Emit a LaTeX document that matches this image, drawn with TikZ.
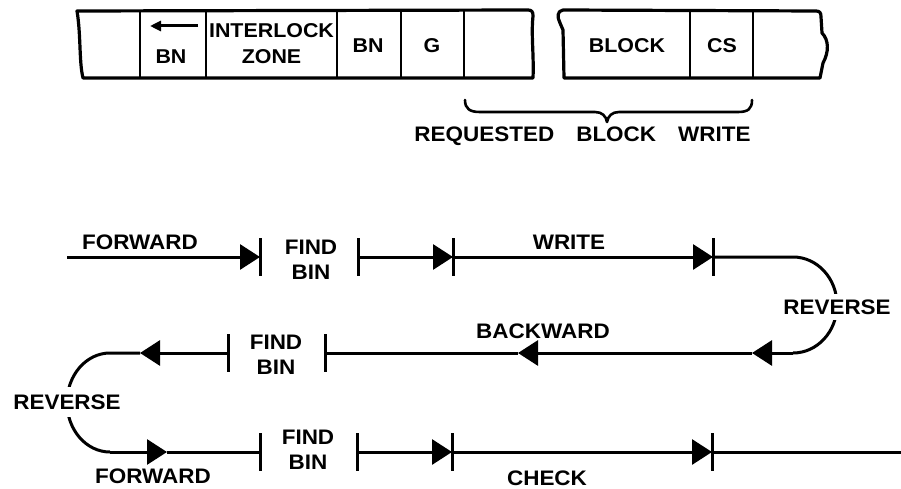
\documentclass[tikz,border=0pt]{standalone}
\usepackage{fontspec}
\setmainfont{Liberation Sans}[FakeStretch=1.07]
\usetikzlibrary{arrows.meta}
\begin{document}
\begin{tikzpicture}[x=1pt,y=-1pt,
  lbl/.style={font=\fontsize{21}{25}\selectfont\bfseries, inner sep=0pt, align=center},
  tlbl/.style={font=\fontsize{20}{26}\selectfont\bfseries, inner sep=0pt, align=center},
  rev/.style={lbl, fill=white, inner xsep=1pt, inner ysep=6pt},
  tape/.style={line width=3.2pt, line join=round, line cap=round},
  divider/.style={line width=2.2pt},
  flow/.style={line width=3pt},
  tri/.style={-{Triangle[length=20pt,width=25pt]}},
  barline/.style={line width=3pt},
  bracestyle/.style={line width=2.6pt, line cap=round, line join=round},
]
\useasboundingbox (0,0) rectangle (901,489);

% ---------- tape ----------
\draw[tape] (77,11) -- (528,10) .. controls (532,10) and (533,12) .. (533,16)
  .. controls (531,35) and (534,55) .. (533,78) -- (83,78)
  .. controls (79,62) and (81,35) .. (77,11) -- cycle;
\foreach \xx in {140,206,337,401,464}
  \draw[divider] (\xx,10) -- (\xx,78);

\draw[tape] (564,78) -- (563,30) -- (560,23) .. controls (557,17) and (557,11) .. (563,10)
  -- (816,11) .. controls (820,11) and (821,13) .. (821,17) -- (822,33)
  .. controls (829,40) and (829,52) .. (823,63) -- (820,78) -- cycle;
\foreach \xx in {690,753}
  \draw[divider] (\xx,10) -- (\xx,78);

\coordinate (ba) at (198,26);
\coordinate (bb) at (150,26);
\draw[line width=3pt, -{Triangle[length=11pt,width=10pt]}] (ba) -- (bb);

\node[tlbl] (bn1) at (171,57) {BN};
\node[tlbl] (iz) at (271.5,44) {INTERLOCK\\ZONE};
\node[tlbl] (bn2) at (368,46) {BN};
\node[tlbl] (g) at (432,46) {G};
\node[tlbl] (blk) at (627,46) {BLOCK};
\node[tlbl] (cs) at (722,46) {CS};

% brace
\coordinate (brl) at (465,100);
\coordinate (brr) at (752,100);
\coordinate (brt) at (607,122);
\draw[bracestyle] (brl) .. controls (465,109) and (470,112) .. (480,112) -- (595,112)
  .. controls (602,112) and (606,116) .. (brt)
  .. controls (608,116) and (612,112) .. (619,112) -- (738,112)
  .. controls (748,112) and (752,109) .. (brr);
\node[lbl] (req) at (582.5,136) {REQUESTED\hspace{22pt}BLOCK\hspace{22pt}WRITE};

% ---------- flow ----------
% row 1
\coordinate (s1) at (67,257);
\coordinate (b1) at (260,257);
\coordinate (b2) at (358,257);
\coordinate (b3) at (453,257);
\coordinate (b4) at (713,257);
\coordinate (r1) at (793,257);
% row 2
\coordinate (r2) at (793,353);
\coordinate (t1) at (752,353);
\coordinate (t2) at (518,353);
\coordinate (b5) at (325,353);
\coordinate (b6) at (228,353);
\coordinate (t3) at (140,353);
\coordinate (l1) at (110,353);
% row 3
\coordinate (l2) at (110,452);
\coordinate (t4) at (167,452);
\coordinate (b7) at (260,452);
\coordinate (b8) at (357,452);
\coordinate (b9) at (452,452);
\coordinate (b10) at (712,452);
\coordinate (e1) at (901,452);

\draw[flow,tri] (s1) -- (b1);
\draw[flow,tri] (b2) -- (b3);
\draw[flow,tri] (b3) -- (b4);
\draw[flow] (b4) -- (r1) arc[start angle=-90,end angle=90,x radius=44,y radius=48];

\draw[flow,tri] (r2) -- (t1);
\draw[flow,tri] (t1) -- (t2);
\draw[flow] (t2) -- (b5);
\draw[flow,tri] (b6) -- (t3);
\draw[flow] (t3) -- (l1) arc[start angle=-90,end angle=-270,x radius=43,y radius=49.5];

\draw[flow,tri] (l2) -- (t4);
\draw[flow] (t4) -- (b7);
\draw[flow,tri] (b8) -- (b9);
\draw[flow,tri] (b9) -- (b10);
\draw[flow] (b10) -- (e1);

\foreach \b in {b1,b2,b3,b4,b5,b6,b7,b8,b9,b10}
  \draw[barline] (\b) ++(0,-19) -- ++(0,38);

% labels
\node[lbl] (fw1) at (140,242) {FORWARD};
\node[lbl] (fb1) at (311,259.5) {FIND\\BIN};
\node[lbl] (wr) at (569,242) {WRITE};
\node[rev] (rvr) at (837,307) {REVERSE};
\node[lbl] (bk) at (543,331) {BACKWARD};
\node[lbl] (fb2) at (276,354.5) {FIND\\BIN};
\node[rev, inner ysep=8pt] (rvl) at (67,402) {REVERSE};
\node[lbl] (fb3) at (308,450) {FIND\\BIN};
\node[lbl] (fw2) at (153,476) {FORWARD};
\node[lbl] (ck) at (547,478) {CHECK};
\end{tikzpicture}
\end{document}
